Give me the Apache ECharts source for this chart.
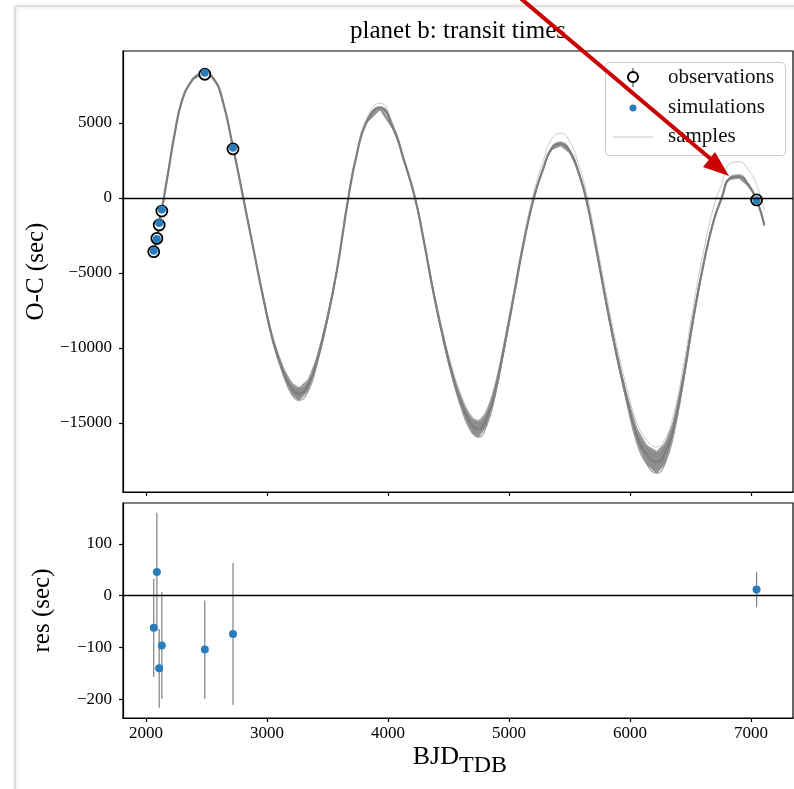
<!DOCTYPE html>
<html><head><meta charset="utf-8">
<script src="https://cdn.jsdelivr.net/npm/echarts@6/dist/echarts.min.js"></script>
<style>html,body{margin:0;padding:0;background:#fff}#c{width:794px;height:789px}</style>
</head><body><div id="c"></div>
<script>
// ---- data ----
const transitTimes = [2064, 2090, 2109, 2131, 2486, 2719, 7046];
const obsOC = [-3580, -2690, -1800, -870, 8250, 3270, -130];
const simOC = [-3518, -2736, -1660, -774, 8354, 3344, -142];
const residuals = [-62, 46, -140, -96, -104, -74, 12];
const resErr = [95, 114, 76, 103, 95, 137, 34];

const sampleX = [2064,2090,2109,2131,2184,2240,2295,2364,2433,2488,2556,2625,2722,2804,2887,2970,3052,3135,3204,3264,3341,3411,3493,3576,3672,3741,3824,3934,4044,4127,4223,4292,4374,4457,4540,4622,4692,4746,4815,4884,4953,5036,5118,5205,5284,5353,5427,5504,5573,5636,5725,5807,5890,5973,6055,6138,6221,6290,6358,6441,6523,6606,6689,6758,6826,6901,6978,7047,7110];
const sampleMid = [-3520,-2740,-1660,-770,1750,4420,6420,7650,8200,8300,7980,6750,3270,0,-3360,-6690,-9580,-11580,-12690,-13050,-12470,-10910,-8240,-4910,0,2870,5090,6000,4640,2640,0,-2690,-6240,-9360,-12020,-14020,-15130,-15400,-14690,-12910,-10240,-6690,-3130,0,1980,3310,3600,3090,1760,0,-3580,-7130,-10470,-13360,-15800,-17100,-17600,-17000,-15400,-12020,-8020,-4470,-1580,0,1310,1420,870,-140,-1800];
const sampleDeep = [-3520,-2740,-1660,-770,1750,4420,6380,7580,8120,8220,7900,6700,3250,-20,-3400,-6770,-9730,-11830,-13090,-13500,-12870,-11160,-8390,-4970,-30,2840,5020,5880,4540,2590,-40,-2740,-6320,-9510,-12270,-14420,-15630,-15950,-15190,-13260,-10440,-6790,-3170,-40,1930,3220,3480,2990,1700,-50,-3650,-7230,-10620,-13660,-16300,-17750,-18350,-17700,-15900,-12320,-8170,-4540,-1620,-40,1230,1320,780,-200,-1880];
const sampleShallow = [-3520,-2740,-1660,-770,1750,4420,6440,7680,8240,8340,8020,6790,3290,20,-3330,-6620,-9440,-11330,-12340,-12650,-12120,-10660,-8100,-4860,30,2900,5150,6100,4730,2690,40,-2640,-6160,-9210,-11820,-13670,-14680,-14900,-14240,-12560,-10040,-6590,-3090,40,2030,3400,3720,3190,1810,50,-3510,-7030,-10320,-13110,-15350,-16500,-16900,-16350,-14950,-11770,-7870,-4400,-1530,40,1390,1540,960,-80,-1720];
const sampleOutlier = [-3500,-2720,-1640,-750,1780,4450,6460,7700,8260,8360,8040,6800,3300,40,-3300,-6600,-9400,-11280,-12290,-12600,-12070,-10610,-8040,-4760,150,3020,5340,6320,4890,2790,150,-2490,-5990,-9010,-11570,-13470,-14530,-14780,-14090,-12410,-9840,-6340,-2780,400,2480,3960,4320,3740,2310,500,-3030,-6530,-9820,-12610,-14950,-16150,-16600,-16050,-14500,-11220,-7220,-3620,-680,950,2310,2420,1870,860,-800];

const xTicks = [2000, 3000, 4000, 5000, 6000, 7000];
const ocTicks = [-15000, -10000, -5000, 0, 5000];
const resTicks = [-200, -100, 0, 100];

// ---- chart ----
const FONT = 'Liberation Serif';
const fmt = v => (v < 0 ? '\u2212' + Math.abs(v) : String(v));
const pairs = (xs, ys) => xs.map((x, i) => [x, ys[i]]);
const BLUE = '#2a7dbd';
const SMOOTH = 0.5;

const chart = echarts.init(document.getElementById('c'), null, {renderer: 'canvas'});

const axisLine = {show: true, onZero: false, lineStyle: {color: '#000', width: 1.2}};
const tickStyle = {color: '#000', width: 1.2};

const option = {
  animation: false,
  backgroundColor: '#fff',
  grid: [
    {left: 123, top: 51, width: 670, height: 441, show: true, borderColor: '#000', borderWidth: 1.2},
    {left: 123, top: 503, width: 670, height: 215, show: true, borderColor: '#000', borderWidth: 1.2}
  ],
  xAxis: [
    {type: 'value', gridIndex: 0, min: 1810, max: 7347, axisLine,
     axisTick: {show: true, customValues: xTicks, length: 4, lineStyle: tickStyle},
     axisLabel: {show: false}, splitLine: {show: false}},
    {type: 'value', gridIndex: 1, min: 1810, max: 7347, axisLine,
     axisTick: {show: true, customValues: xTicks, length: 4, lineStyle: tickStyle},
     axisLabel: {show: true, customValues: xTicks, formatter: fmt, fontFamily: FONT, fontSize: 17, color: '#000', margin: 7},
     splitLine: {show: false}}
  ],
  yAxis: [
    {type: 'value', gridIndex: 0, min: -19600, max: 9800, axisLine,
     axisTick: {show: true, customValues: ocTicks, length: 4, lineStyle: tickStyle},
     axisLabel: {show: true, customValues: ocTicks, formatter: fmt, fontFamily: FONT, fontSize: 17, color: '#000', margin: 11},
     splitLine: {show: false},
     name: 'O-C (sec)', nameLocation: 'middle', nameGap: 68,
     nameTextStyle: {fontFamily: FONT, fontSize: 25, color: '#000'}},
    {type: 'value', gridIndex: 1, min: -236, max: 179, axisLine,
     axisTick: {show: true, customValues: resTicks, length: 4, lineStyle: tickStyle},
     axisLabel: {show: true, customValues: resTicks, formatter: fmt, fontFamily: FONT, fontSize: 17, color: '#000', margin: 11},
     splitLine: {show: false},
     name: 'res (sec)', nameLocation: 'middle', nameGap: 68,
     nameTextStyle: {fontFamily: FONT, fontSize: 25, color: '#000'}}
  ],
  series: [
    // spread of the posterior samples (filled between deepest and shallowest sample)
    {name: 'samples-band', type: 'custom', xAxisIndex: 0, yAxisIndex: 0,
     data: sampleX.map((x, i) => [x, sampleDeep[i], sampleShallow[i]]),
     encode: {x: 0, y: [1, 2]}, silent: true, z: 1,
     renderItem: (params, api) => {
       const i = params.dataIndex;
       if (i >= sampleX.length - 1) return {type: 'group', children: []};
       if (sampleShallow[i] - sampleDeep[i] < 200 && sampleShallow[i + 1] - sampleDeep[i + 1] < 200)
         return {type: 'group', children: []};
       const pts = [
         api.coord([sampleX[i], sampleDeep[i]]), api.coord([sampleX[i + 1], sampleDeep[i + 1]]),
         api.coord([sampleX[i + 1], sampleShallow[i + 1]]), api.coord([sampleX[i], sampleShallow[i]])
       ];
       return {type: 'polygon', shape: {points: pts},
               style: {fill: '#8e8e8e', stroke: '#8e8e8e', lineWidth: 0.8}};
     }},
    {name: 'samples', type: 'line', xAxisIndex: 0, yAxisIndex: 0, data: pairs(sampleX, sampleOutlier),
     smooth: SMOOTH, showSymbol: false, silent: true, z: 1,
     lineStyle: {color: '#c9c9c9', width: 1}},
    {name: 'samples-deep', type: 'line', xAxisIndex: 0, yAxisIndex: 0, data: pairs(sampleX, sampleDeep),
     smooth: SMOOTH, showSymbol: false, silent: true, z: 1,
     lineStyle: {color: '#9c9c9c', width: 1.2}},
    {name: 'samples-shallow', type: 'line', xAxisIndex: 0, yAxisIndex: 0, data: pairs(sampleX, sampleShallow),
     smooth: SMOOTH, showSymbol: false, silent: true, z: 1,
     lineStyle: {color: '#9c9c9c', width: 1.2}},
    {name: 'samples-mid', type: 'line', xAxisIndex: 0, yAxisIndex: 0, data: pairs(sampleX, sampleMid),
     smooth: SMOOTH, showSymbol: false, silent: true, z: 2,
     lineStyle: {color: '#7e7e7e', width: 2.2},
     markLine: {silent: true, symbol: 'none', label: {show: false},
       lineStyle: {color: '#000', width: 1.3, type: 'solid'}, data: [{yAxis: 0}]}},
    {name: 'observations', type: 'scatter', xAxisIndex: 0, yAxisIndex: 0, data: pairs(transitTimes, obsOC),
     symbol: 'circle', symbolSize: 11, z: 3,
     itemStyle: {color: '#fff', borderColor: '#000', borderWidth: 1.8, opacity: 1}},
    {name: 'simulations', type: 'scatter', xAxisIndex: 0, yAxisIndex: 0, data: pairs(transitTimes, simOC),
     symbol: 'circle', symbolSize: 8, z: 4, itemStyle: {color: BLUE, opacity: 1}},
    {name: 'res-err', type: 'custom', xAxisIndex: 1, yAxisIndex: 1,
     data: transitTimes.map((x, i) => [x, residuals[i], resErr[i]]),
     encode: {x: 0, y: 1}, silent: true, z: 2,
     renderItem: (params, api) => {
       const x = api.value(0), y = api.value(1), e = api.value(2);
       const a = api.coord([x, y - e]), b = api.coord([x, y + e]);
       return {type: 'line', shape: {x1: a[0], y1: a[1], x2: b[0], y2: b[1]},
               style: {stroke: '#808080', lineWidth: 1.2}};
     }},
    {name: 'residuals', type: 'scatter', xAxisIndex: 1, yAxisIndex: 1, data: pairs(transitTimes, residuals),
     symbol: 'circle', symbolSize: 8, z: 4, itemStyle: {color: BLUE, opacity: 1},
     markLine: {silent: true, symbol: 'none', label: {show: false},
       lineStyle: {color: '#000', width: 1.3, type: 'solid'}, data: [{yAxis: 0}]}}
  ],
  graphic: [
    {type: 'rect', z: -10, silent: true, shape: {x: 15.5, y: 6.5, width: 800, height: 800},
     style: {fill: '#fff', stroke: '#d6d6d6', lineWidth: 1, shadowBlur: 4, shadowColor: 'rgba(0,0,0,0.22)'}},
    {type: 'text', z: 10, silent: true, x: 458, y: 31,
     style: {text: 'planet b: transit times', font: '25px "Liberation Serif"', fill: '#000', align: 'center', verticalAlign: 'middle'}},
    {type: 'text', z: 10, silent: true, x: 459, y: 757,
     style: {text: 'BJD', font: '26px "Liberation Serif"', fill: '#000', align: 'right', verticalAlign: 'middle'}},
    {type: 'text', z: 10, silent: true, x: 459, y: 766,
     style: {text: 'TDB', font: '24px "Liberation Serif"', fill: '#000', align: 'left', verticalAlign: 'middle'}},
    // legend
    {type: 'group', z: 10, silent: true, children: [
      {type: 'rect', z: 10, shape: {x: 605.5, y: 62.5, width: 180, height: 93, r: 4},
       style: {fill: 'rgba(255,255,255,0.8)', stroke: '#cccccc', lineWidth: 1}},
      {type: 'line', z: 11, shape: {x1: 633, y1: 68, x2: 633, y2: 87}, style: {stroke: '#555', lineWidth: 1.2}},
      {type: 'circle', z: 12, shape: {cx: 633, cy: 77, r: 5}, style: {fill: '#fff', stroke: '#000', lineWidth: 2}},
      {type: 'circle', z: 12, shape: {cx: 633, cy: 108, r: 3.5}, style: {fill: BLUE}},
      {type: 'line', z: 11, shape: {x1: 613, y1: 137, x2: 653, y2: 137}, style: {stroke: '#c9c9c9', lineWidth: 1}},
      {type: 'text', z: 12, x: 668, y: 77, style: {text: 'observations', font: '21px "Liberation Serif"', fill: '#111', verticalAlign: 'middle'}},
      {type: 'text', z: 12, x: 668, y: 107, style: {text: 'simulations', font: '21px "Liberation Serif"', fill: '#111', verticalAlign: 'middle'}},
      {type: 'text', z: 12, x: 668, y: 136, style: {text: 'samples', font: '21px "Liberation Serif"', fill: '#111', verticalAlign: 'middle'}}
    ]},
    // red annotation arrow
    {type: 'group', z: 20, silent: true, children: [
      {type: 'line', z: 20, shape: {x1: 519, y1: -3, x2: 712, y2: 160}, style: {stroke: '#cc0000', lineWidth: 4}},
      {type: 'polygon', z: 20, shape: {points: [[729, 176], [703, 167], [715, 152]]}, style: {fill: '#cc0000'}}
    ]}
  ]
};
chart.setOption(option);
</script>
</body></html>
